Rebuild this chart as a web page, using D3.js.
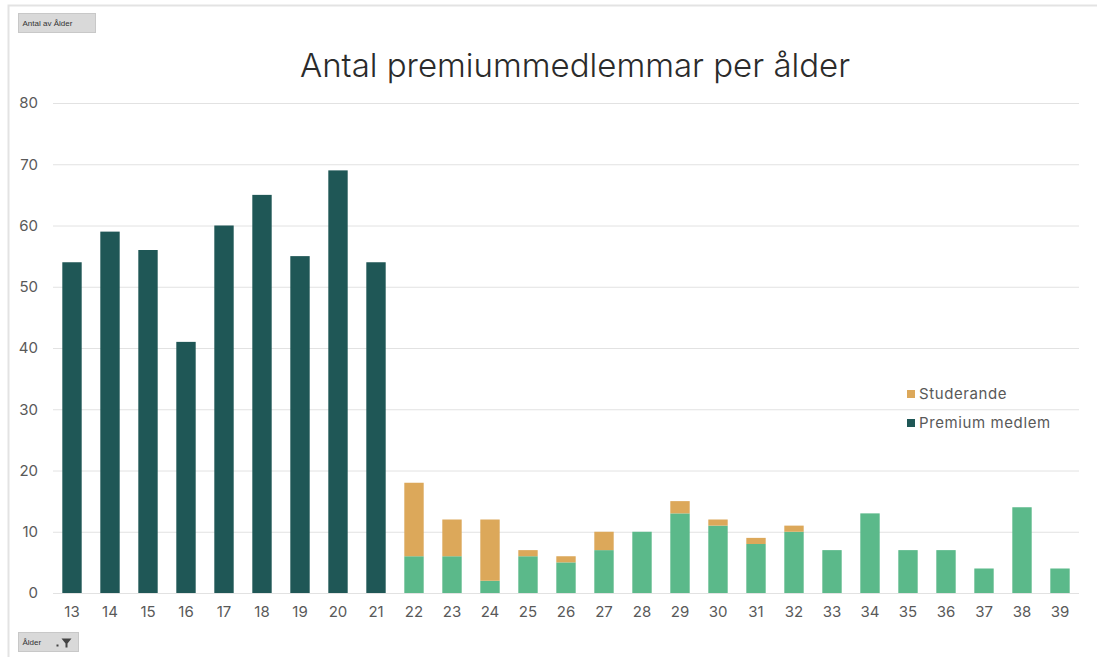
<!DOCTYPE html>
<html>
<head>
<meta charset="utf-8">
<script src="https://cdn.jsdelivr.net/npm/d3@7"></script>
<style>
  body { margin: 0; background: #fff; font-family: Inter, "Noto Sans", sans-serif; }
  svg { display: block; }
</style>
</head>
<body>
<div id="chart"></div>
<script>
// ages on the x axis
var ages = [13, 14, 15, 16, 17, 18, 19, 20, 21, 22, 23, 24, 25, 26, 27, 28, 29, 30, 31, 32, 33, 34, 35, 36, 37, 38, 39]
// premium members (bottom segment)
var premium = [54, 59, 56, 41, 60, 65, 55, 69, 54, 6, 6, 2, 6, 5, 7, 10, 13, 11, 8, 10, 7, 13, 7, 7, 4, 14, 4]
// students (top segment)
var studerande = [0, 0, 0, 0, 0, 0, 0, 0, 0, 12, 6, 10, 1, 1, 3, 0, 2, 1, 1, 1, 0, 0, 0, 0, 0, 0, 0]
var yTicks = [0, 10, 20, 30, 40, 50, 60, 70, 80]
var seriesNames = ['Studerande', 'Premium medlem']

var W = 1097, H = 657
var colDark = '#1f5756', colLight = '#5bb98a', colGold = '#dca85a'
var font = 'Inter, "Noto Sans", sans-serif'

var svg = d3.select('#chart').append('svg')
  .attr('width', W).attr('height', H)

// outer frame
svg.append('path')
  .attr('d', 'M8.5,' + H + 'V5.5H' + W)
  .attr('fill', 'none')
  .attr('stroke', '#e3e3e3')
  .attr('stroke-width', 2)

var x = d3.scaleBand().domain(ages).range([53, 1079]).paddingInner(0.49).paddingOuter(0.245)
var y = d3.scaleLinear().domain([0, 80]).range([593, 103])

// gridlines
svg.append('g').selectAll('line')
  .data(yTicks)
  .enter().append('line')
  .attr('x1', 53).attr('x2', 1079)
  .attr('y1', d => y(d) + 0.5).attr('y2', d => y(d) + 0.5)
  .attr('stroke', '#e2e2e2').attr('stroke-width', 1)

// y axis labels
var yAxis = svg.append('g')
  .attr('transform', 'translate(38,0)')
  .call(d3.axisLeft(y).tickValues(yTicks).tickSize(0).tickPadding(0))
yAxis.select('.domain').remove()
yAxis.selectAll('text')
  .attr('fill', '#595959').style('font-size', '15px')
  .style('font-family', font)

// x axis labels
var xAxis = svg.append('g')
  .attr('transform', 'translate(0,600)')
  .call(d3.axisBottom(x).tickSize(0).tickPadding(6))
xAxis.select('.domain').remove()
xAxis.selectAll('text')
  .attr('fill', '#595959').style('font-size', '15px')
  .style('font-family', font)

var rows = ages.map((a, i) => ({ age: a, premium: premium[i], studerande: studerande[i] }))

// bottom segment: dark for under 22, light green otherwise
svg.append('g').selectAll('rect')
  .data(rows)
  .enter().append('rect')
  .attr('x', d => x(d.age))
  .attr('width', x.bandwidth())
  .attr('y', d => y(d.premium))
  .attr('height', d => y(0) - y(d.premium))
  .attr('fill', d => d.age < 22 ? colDark : colLight)

// top segment
svg.append('g').selectAll('rect')
  .data(rows.filter(d => d.studerande > 0))
  .enter().append('rect')
  .attr('x', d => x(d.age))
  .attr('width', x.bandwidth())
  .attr('y', d => y(d.premium + d.studerande))
  .attr('height', d => y(d.premium) - y(d.premium + d.studerande))
  .attr('fill', colGold)

// title
svg.append('text')
  .attr('x', 575).attr('y', 77)
  .attr('text-anchor', 'middle')
  .attr('fill', '#2b2b2b')
  .style('font-size', '33px')
  .style('font-weight', 300)
  .style('font-family', font)
  .text('Antal premiummedlemmar per ålder')

// legend
var legend = svg.append('g').selectAll('g')
  .data(seriesNames)
  .enter().append('g')
  .attr('transform', (d, i) => 'translate(907,' + (394 + i * 29) + ')')
legend.append('rect')
  .attr('x', 0).attr('y', -4).attr('width', 8).attr('height', 8)
  .attr('fill', (d, i) => i === 0 ? colGold : colDark)
legend.append('text')
  .attr('x', 12).attr('y', 0).attr('dy', '0.35em')
  .attr('fill', '#595959').style('font-size', '15px')
  .style('letter-spacing', '0.6px')
  .style('font-family', font)
  .text(d => d)

// pivot field buttons
function fieldButton(bx, by, bw, label, filter) {
  var g = svg.append('g').attr('transform', 'translate(' + bx + ',' + by + ')')
  g.append('rect')
    .attr('width', bw).attr('height', 19)
    .attr('fill', '#d9d9d9').attr('stroke', '#c8c8c8')
  g.append('text')
    .attr('x', 4).attr('y', 10).attr('dy', '0.35em')
    .attr('fill', '#333').style('font-size', '8px')
    .style('font-family', '"Liberation Sans", Arial, sans-serif')
    .text(label)
  if (filter) {
    g.append('path')
      .attr('d', 'M' + (bw - 17) + ',6H' + (bw - 7) + 'L' + (bw - 11) + ',11V15H' + (bw - 13) + 'V11Z')
      .attr('fill', '#444')
    g.append('rect')
      .attr('x', bw - 22).attr('y', 12).attr('width', 2).attr('height', 2)
      .attr('fill', '#444')
  }
}
fieldButton(18.5, 13.5, 77, 'Antal av Ålder', false)
fieldButton(18.5, 632.5, 60, 'Ålder', true)
</script>
</body>
</html>
